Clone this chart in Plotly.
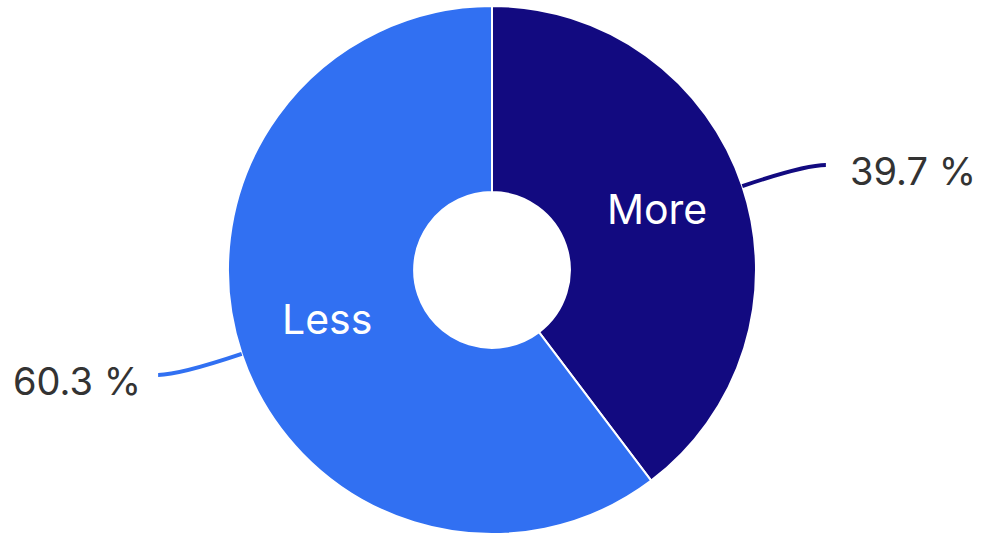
import math
import plotly.graph_objects as go

# ---- data ----
labels = ["More", "Less"]
values = [39.7, 60.3]
colors = ["#120A80", "#3170F2"]
pct_text = ["39.7 %", "60.3 %"]

# ---- geometry (pixels) ----
W, H = 981, 535
cx, cy, R = 492, 270, 264
HOLE = 0.295

dom_x = [(cx - R) / W, (cx + R) / W]
dom_y = [(H - cy - R) / H, (H - cy + R) / H]

fig = go.Figure()
fig.add_trace(go.Pie(
    labels=labels,
    values=values,
    sort=False,
    direction="clockwise",
    rotation=0,
    hole=HOLE,
    domain=dict(x=dom_x, y=dom_y),
    marker=dict(colors=colors, line=dict(color="white", width=2)),
    textinfo="none",
    showlegend=False,
    hoverinfo="label+percent",
))


def px(p):
    return f"{p[0] / W:.5f},{1 - p[1] / H:.5f}"


# ---- labels with curved connectors, computed from the data ----
total = sum(values)
cum = 0.0
shapes = []
annotations = []
for lab, v, col, txt in zip(labels, values, colors, pct_text):
    mid = (cum + v / 2) / total * 2 * math.pi  # clockwise from 12 o'clock
    cum += v
    dx, dy = math.sin(mid), -math.cos(mid)
    s = 1 if dx >= 0 else -1

    # inside category label
    rl = 0.66 * R
    annotations.append(dict(
        xref="paper", yref="paper",
        x=(cx + rl * dx) / W, y=1 - (cy + rl * dy) / H,
        xanchor="center", yanchor="middle", yshift=6,
        text=lab, showarrow=False,
        font=dict(family="Inter", size=41, color="white"),
    ))

    # connector
    p0 = (cx + R * dx, cy + R * dy)
    d = 66
    c = (p0[0] + d * dx, p0[1] + d * dy)
    e = (c[0] + 21 * s, c[1])
    shapes.append(dict(
        type="path", xref="paper", yref="paper",
        path=f"M {px(p0)} Q {px(c)} {px(e)}",
        line=dict(color=col, width=4),
    ))
    annotations.append(dict(
        xref="paper", yref="paper",
        x=(e[0] + (22 if s > 0 else -15)) / W, y=1 - e[1] / H,
        xanchor="left" if s > 0 else "right", yanchor="middle",
        yshift=-6,
        text=txt, showarrow=False,
        font=dict(family="Inter", size=38, color="#333333"),
    ))

fig.update_layout(
    width=W, height=H,
    margin=dict(l=0, r=0, t=0, b=0),
    paper_bgcolor="white", plot_bgcolor="white",
    shapes=shapes,
    annotations=annotations,
)

fig.write_html("out.html")
